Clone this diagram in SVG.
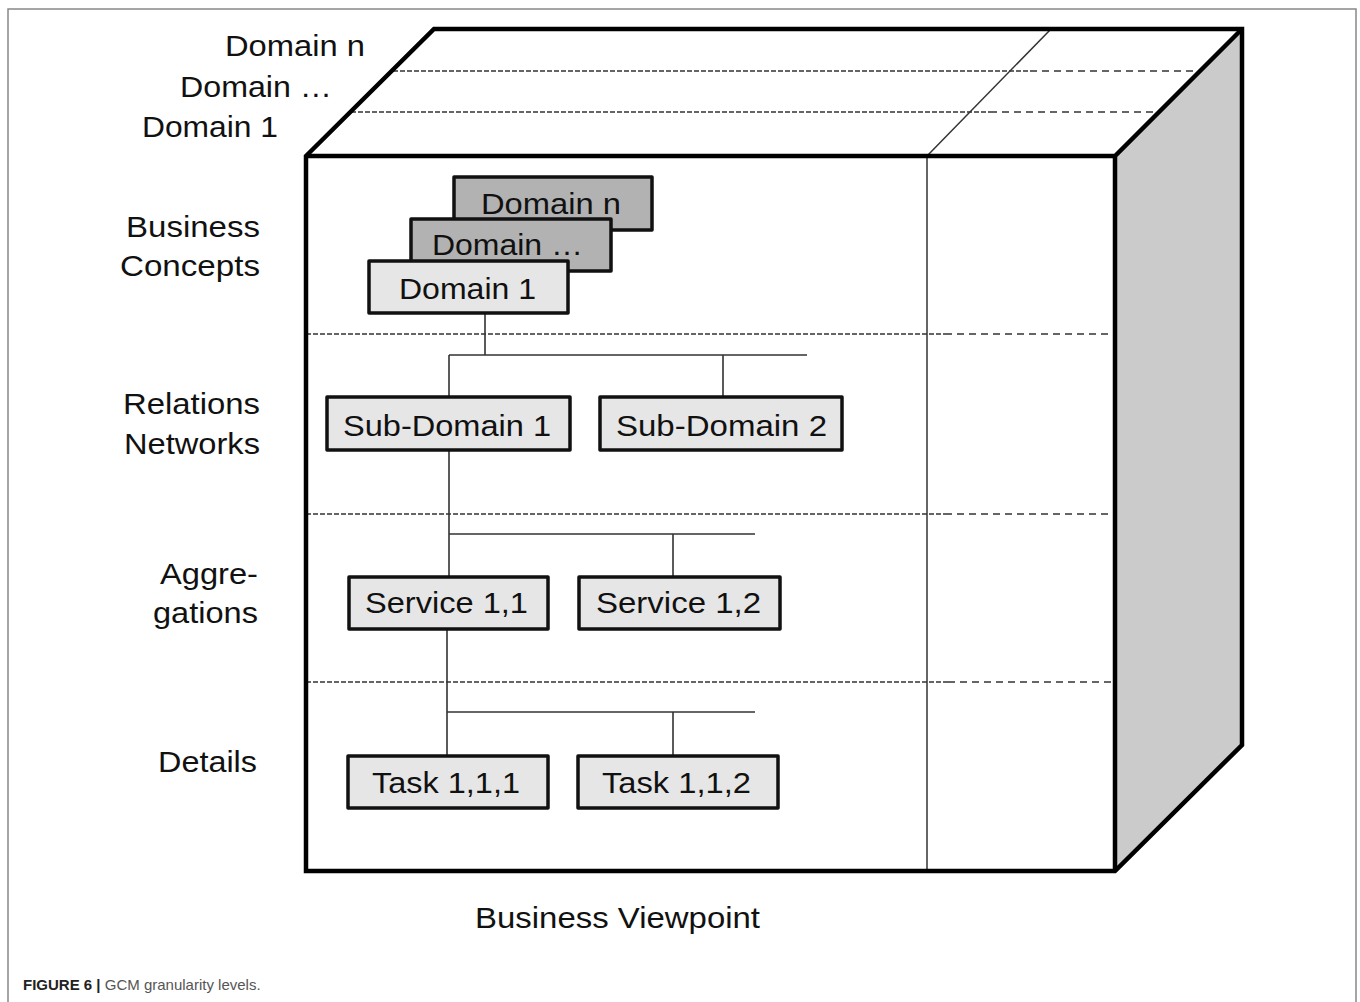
<svg xmlns="http://www.w3.org/2000/svg" width="1360" height="1002" viewBox="0 0 1360 1002">
<style>
text{font-family:"Liberation Sans",Arial,sans-serif;fill:#111}
.lbl{font-size:30px;text-anchor:start}
.bx{stroke:#111;stroke-width:3.5;stroke-linejoin:round}
.dark{fill:#b2b2b2}
.light{fill:#e6e6e6}
.edge{fill:none;stroke:#000;stroke-width:4.5;stroke-linejoin:miter}
.fine{fill:none;stroke:#333;stroke-width:1.6;stroke-dasharray:5 2}
.coarse{fill:none;stroke:#333;stroke-width:1.6;stroke-dasharray:7 5}
.thin{fill:none;stroke:#333;stroke-width:1.5}
.conn{fill:none;stroke:#333;stroke-width:1.6}
</style>
<rect x="0" y="0" width="1360" height="1002" fill="#fff"/>
<path d="M8 1002 V9 H1356 V1002" fill="none" stroke="#888" stroke-width="1.5"/>

<g id="cube">
<polygon points="306,156 434,29 1242,29 1115,156" fill="#fff"/>
<polygon points="1115,156 1242,29 1242,745 1115,871" fill="#cbcbcb"/>
<rect x="306" y="156" width="809" height="715" fill="#fff"/>
<path class="fine" d="M393 71 H1030"/>
<path class="coarse" d="M1030 71 H1200"/>
<path class="fine" d="M351 112 H990"/>
<path class="coarse" d="M990 112 H1158"/>
<path class="thin" d="M927 156 L1051 29"/>
<path class="thin" d="M927 156 V871"/>
<path class="fine" d="M306 334 H945"/>
<path class="coarse" d="M945 334 H1115"/>
<path class="fine" d="M306 514 H945"/>
<path class="coarse" d="M945 514 H1115"/>
<path class="fine" d="M306 682 H948"/>
<path class="coarse" d="M948 682 H1115"/>
<path class="edge" d="M306 156 L434 29 H1242 V745 L1115 871 H306 Z"/>
<path class="edge" d="M306 156 H1115 L1242 29 M1115 156 V871"/>
</g>

<g id="labels">
<text class="lbl" x="225" y="56" textLength="140" lengthAdjust="spacingAndGlyphs">Domain n</text>
<text class="lbl" x="180" y="97" textLength="152" lengthAdjust="spacingAndGlyphs">Domain …</text>
<text class="lbl" x="142" y="137" textLength="136" lengthAdjust="spacingAndGlyphs">Domain 1</text>
<text class="lbl" x="126" y="237" textLength="134" lengthAdjust="spacingAndGlyphs">Business</text>
<text class="lbl" x="120" y="276" textLength="140" lengthAdjust="spacingAndGlyphs">Concepts</text>
<text class="lbl" x="123" y="414" textLength="137" lengthAdjust="spacingAndGlyphs">Relations</text>
<text class="lbl" x="124" y="454" textLength="136" lengthAdjust="spacingAndGlyphs">Networks</text>
<text class="lbl" x="160" y="584" textLength="98" lengthAdjust="spacingAndGlyphs">Aggre-</text>
<text class="lbl" x="153" y="623" textLength="105" lengthAdjust="spacingAndGlyphs">gations</text>
<text class="lbl" x="158" y="772" textLength="99" lengthAdjust="spacingAndGlyphs">Details</text>
<text class="lbl" x="475" y="928" textLength="285" lengthAdjust="spacingAndGlyphs">Business Viewpoint</text>
</g>

<g id="connectors">
<path class="conn" d="M485 314 V355 M449 355 H807 M449 355 V397 M723 355 V397"/>
<path class="conn" d="M449 451 V577 M449 534 H755 M673 534 V577"/>
<path class="conn" d="M447 630 V756 M447 712 H755 M673 712 V756"/>
</g>

<g id="domain-n">
<rect class="bx dark" x="454" y="177" width="198" height="53"/>
<text class="lbl" x="481" y="214" textLength="140" lengthAdjust="spacingAndGlyphs">Domain n</text>
</g>
<g id="domain-etc">
<rect class="bx dark" x="411" y="219" width="200" height="52"/>
<text class="lbl" x="432" y="255" textLength="151" lengthAdjust="spacingAndGlyphs">Domain …</text>
</g>
<g id="domain-1">
<rect class="bx light" x="369" y="261" width="199" height="52"/>
<text class="lbl" x="399" y="299" textLength="137" lengthAdjust="spacingAndGlyphs">Domain 1</text>
</g>
<g id="sub-domain-1">
<rect class="bx light" x="327" y="397" width="243" height="53"/>
<text class="lbl" x="343" y="436" textLength="208" lengthAdjust="spacingAndGlyphs">Sub-Domain 1</text>
</g>
<g id="sub-domain-2">
<rect class="bx light" x="600" y="397" width="242" height="53"/>
<text class="lbl" x="616" y="436" textLength="211" lengthAdjust="spacingAndGlyphs">Sub-Domain 2</text>
</g>
<g id="service-1-1">
<rect class="bx light" x="349" y="577" width="199" height="52"/>
<text class="lbl" x="365" y="613" textLength="163" lengthAdjust="spacingAndGlyphs">Service 1,1</text>
</g>
<g id="service-1-2">
<rect class="bx light" x="579" y="577" width="201" height="52"/>
<text class="lbl" x="596" y="613" textLength="165" lengthAdjust="spacingAndGlyphs">Service 1,2</text>
</g>
<g id="task-1-1-1">
<rect class="bx light" x="348" y="756" width="200" height="52"/>
<text class="lbl" x="372" y="793" textLength="148" lengthAdjust="spacingAndGlyphs">Task 1,1,1</text>
</g>
<g id="task-1-1-2">
<rect class="bx light" x="578" y="756" width="200" height="52"/>
<text class="lbl" x="602" y="793" textLength="149" lengthAdjust="spacingAndGlyphs">Task 1,1,2</text>
</g>

<g id="caption">
<text x="23" y="990" style="font-size:15px"><tspan font-weight="bold" fill="#222">FIGURE 6 | </tspan><tspan fill="#555">GCM granularity levels.</tspan></text>
</g>
</svg>
